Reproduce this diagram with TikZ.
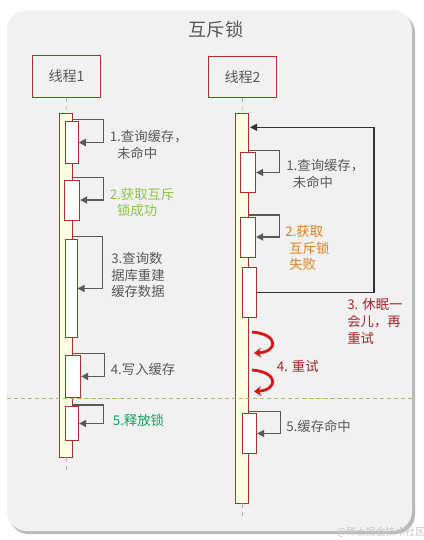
\documentclass[tikz,border=0pt]{standalone}
\usepackage{fontspec}
\setmainfont{Noto Sans CJK SC}
\usetikzlibrary{arrows.meta,positioning,calc}

\definecolor{panelgray}{HTML}{F1F1F1}
\definecolor{shadowgray}{HTML}{B9B9B9}
\definecolor{boxred}{HTML}{A8332E}
\definecolor{barfill}{HTML}{FFFDE2}
\definecolor{txtgray}{HTML}{595959}
\definecolor{okgreen}{HTML}{8DC449}
\definecolor{relgreen}{HTML}{12A356}
\definecolor{failorange}{HTML}{E0801E}
\definecolor{sleepred}{HTML}{A3262A}
\definecolor{retryred}{HTML}{D61717}
\definecolor{sepolive}{HTML}{B5B65E}

\tikzset{
    thread/.style={draw=boxred, line width=0.7pt, minimum width=1.68cm, minimum height=1.03cm, font=\fontsize{10}{12}\selectfont, text=txtgray},
    actbar/.style={draw=boxred, fill=barfill, line width=0.6pt, inner sep=0pt, minimum width=0.31cm},
    inbox/.style={draw=boxred, fill=white, line width=0.6pt, inner sep=0pt},
    lifeline/.style={draw=gray!60, dashed, line width=0.5pt},
    selfarr/.style={draw=txtgray, line width=1.1pt, -{Triangle[length=5pt,width=5pt]}},
    looparr/.style={draw=black!80, line width=0.9pt, -{Triangle[length=5pt,width=5pt]}},
    retry/.style={draw=retryred, line width=2pt, -{Stealth[length=5pt,width=7pt]}},
    lbl/.style={anchor=west, align=left, inner sep=0pt, font=\fontsize{9.5}{12}\selectfont, text=txtgray}
}

\begin{document}
\begin{tikzpicture}[x=0.025cm, y=-0.025cm]
        \useasboundingbox (0,0) rectangle (423,540);

        % panel
        \fill[shadowgray, rounded corners=14pt] (9,13) rectangle (415,534);
        \fill[panelgray, rounded corners=14pt] (7,10) rectangle (412,531);
        \node[font=\fontsize{13}{15}\selectfont, text=txtgray] (title) at (216,30) {互斥锁};

        % threads
        \node[thread] (t1) at (66.5,76.5) {线程1};
        \node[thread] (t2) at (242.5,77) {线程2};

        % activation bars
        \node[actbar, minimum height=8.6cm] (bar1) at (66,285) {};
        \node[actbar, minimum height=9.75cm] (bar2) at (242,308) {};
        \coordinate (end1) at (66,472);
        \coordinate (end2) at (242,520);
        \draw[lifeline] (t1.south) -- (bar1.north);
        \draw[lifeline] (bar1.south) -- (end1);
        \draw[lifeline] (t2.south) -- (bar2.north);
        \draw[lifeline] (bar2.south) -- (end2);

        % separator
        \draw[sepolive, dash pattern=on 3pt off 2pt, line width=0.6pt] (7,398) -- (412,398);

        % thread 1 steps
        \node[inbox, minimum width=0.33cm, minimum height=1.03cm] (b11) at (71.7,142.5) {};
        \node[inbox, minimum width=0.37cm, minimum height=1.0cm] (b12) at (72.3,200) {};
        \node[inbox, minimum width=0.28cm, minimum height=2.43cm] (b13) at (71.5,288.5) {};
        \node[inbox, minimum width=0.37cm, minimum height=1.03cm] (b14) at (73.3,376.5) {};
        \node[inbox, minimum width=0.32cm, minimum height=0.83cm] (b15) at (72.3,423.5) {};

        \draw[selfarr] ([yshift=1.5pt]bar1.east |- b11.north) -- ++(31,0) |- (b11.east);
        \draw[selfarr] ([yshift=1.5pt]bar1.east |- b12.north) -- ++(31,0) |- (b12.east);
        \draw[selfarr] ([yshift=2pt]bar1.east |- b13.north) -- ++(30,0) |- (b13.east);
        \draw[selfarr] ([yshift=1.5pt]bar1.east |- b14.north) -- ++(32,0) |- (b14.east);
        \draw[selfarr] ([yshift=1pt]bar1.east |- b15.north) -- ++(31,0) |- (b15.east);

        \node[lbl] (l11) at (109.5,145) {1.查询缓存，\\\hspace*{0.55em}未命中};
        \node[lbl, text=okgreen] (l12) at (109.5,202.5) {2.获取互斥\\\hspace*{0.55em}锁成功};
        \node[lbl] (l13) at (111,275) {3.查询数\\据库重建\\缓存数据};
        \node[lbl] (l14) at (110.5,369.5) {4.写入缓存};
        \node[lbl, text=relgreen] (l15) at (112.5,420.5) {5.释放锁};

        % thread 2 steps
        \node[inbox, minimum width=0.37cm, minimum height=0.98cm] (b21) at (248.3,172.5) {};
        \node[inbox, minimum width=0.37cm, minimum height=1.0cm] (b22) at (248.3,237) {};
        \node[inbox, minimum width=0.36cm, minimum height=1.23cm] (b23) at (249.5,292.5) {};
        \node[inbox, minimum width=0.36cm, minimum height=0.98cm] (b25) at (249.5,433.5) {};

        \draw[selfarr] ([yshift=1.5pt]bar2.east |- b21.north) -- ++(31,0) |- (b21.east);
        \draw[selfarr] ([yshift=1pt]bar2.east |- b22.north) -- ++(31,0) |- (b22.east);
        \draw[selfarr] ([yshift=1.5pt]bar2.east |- b25.north) -- ++(32,0) |- (b25.east);

        % sleep and go back
        \coordinate (wake) at (250,127.3);
        \draw[looparr] (b23.east) -- ++(117,0) |- (wake);

        % retries
        \coordinate (r1a) at (252,332);
        \coordinate (r1b) at (254,353);
        \coordinate (r2a) at (252,370);
        \coordinate (r2b) at (254,391.5);
        \draw[retry] (r1a) .. controls (279,334) and (278,352) .. (r1b);
        \draw[retry] (r2a) .. controls (279,372) and (278,390) .. (r2b);

        \node[lbl] (l21) at (286,174) {1.查询缓存，\\\hspace*{0.5em}未命中};
        \node[lbl, text=failorange] (l22) at (285,248) {2.获取\\\hspace*{0.3em}互斥锁\\\hspace*{0.3em}失败};
        \node[lbl, text=sleepred] (l23) at (347,321.7) {3. 休眠一\\会儿，再\\重试};
        \node[lbl, text=sleepred] (l24) at (276.5,366) {4. 重试};
        \node[lbl] (l25) at (286,426.5) {5.缓存命中};

        % watermark
        \node[font=\fontsize{7}{8}\selectfont, text=gray!45] (mark) at (381,532) {@稀土掘金技术社区};
    \end{tikzpicture}
\end{document}
